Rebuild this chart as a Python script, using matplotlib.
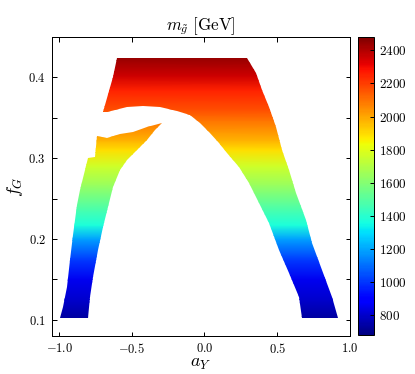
import numpy as np
import matplotlib
matplotlib.use("Agg")
import matplotlib.pyplot as plt
from matplotlib.path import Path
from matplotlib.patches import PathPatch
from matplotlib.ticker import FuncFormatter, FixedLocator

plt.rcParams['mathtext.fontset'] = 'cm'
plt.rcParams['font.family'] = ['cmr10', 'DejaVu Serif']
plt.rcParams['axes.unicode_minus'] = False

# Outline of the upper region (plateau + right leg): (a_Y, f_G)
upper_aY = [-0.600, 0.295, 0.356, 0.397, 0.445, 0.493, 0.534, 0.582, 0.630, 0.699,
            0.740, 0.808, 0.877, 0.918, 0.671, 0.651, 0.582, 0.514, 0.445, 0.377,
            0.308, 0.240, 0.158, 0.103, 0.034, -0.034, -0.103, -0.192, -0.308,
            -0.425, -0.534, -0.671, -0.699, -0.671, -0.630]
upper_fG = [0.424, 0.424, 0.405, 0.384, 0.363, 0.338, 0.310, 0.285, 0.257, 0.223,
            0.195, 0.162, 0.128, 0.102, 0.102, 0.128, 0.158, 0.186, 0.220, 0.244,
            0.269, 0.289, 0.306, 0.319, 0.332, 0.344, 0.353, 0.359, 0.363,
            0.365, 0.363, 0.357, 0.357, 0.375, 0.400]

# Outline of the lower-left leg: (a_Y, f_G)
left_aY = [-0.740, -0.671, -0.582, -0.493, -0.397, -0.295, -0.342, -0.397, -0.466,
           -0.534, -0.582, -0.630, -0.664, -0.699, -0.733, -0.767, -0.788, -0.801,
           -0.993, -0.973, -0.945, -0.925, -0.904, -0.877, -0.856, -0.822, -0.801, -0.753]
left_fG = [0.328, 0.325, 0.330, 0.332, 0.338, 0.343, 0.335, 0.322, 0.310,
           0.298, 0.285, 0.264, 0.240, 0.215, 0.186, 0.153, 0.128, 0.102,
           0.102, 0.116, 0.141, 0.174, 0.205, 0.242, 0.260, 0.285, 0.300, 0.301]

# Gluino mass (colour) read at several f_G heights
mass_fG = [0.100, 0.125, 0.150, 0.174, 0.200, 0.217, 0.236, 0.267, 0.290, 0.310,
           0.322, 0.347, 0.360, 0.384, 0.402, 0.426]
mass_GeV = [725, 805, 860, 1010, 1190, 1370, 1470, 1650, 1760, 1890,
            1980, 2100, 2170, 2250, 2360, 2450]

xticks = [-1.0, -0.5, 0.0, 0.5, 1.0]
yticks = [0.1, 0.2, 0.3, 0.4]
yminor = [0.15, 0.25, 0.35]
cticks = [800, 1000, 1200, 1400, 1600, 1800, 2000, 2200, 2400]
vmin, vmax = 680, 2480

fig = plt.figure(figsize=(415 / 72, 374 / 72), dpi=72)
ax = fig.add_axes([0.125, 0.102, 0.718, 0.799])
cax = fig.add_axes([0.863, 0.104, 0.038, 0.797])

xe = np.array([-1.05, 1.0])
Y = np.repeat(np.array(mass_fG)[:, None], 2, axis=1)
X = np.repeat(xe[None, :], len(mass_fG), axis=0)
C = np.repeat(np.array(mass_GeV, dtype=float)[:, None], 2, axis=1)
mesh = ax.pcolormesh(X, Y, C, shading='gouraud', cmap='jet', vmin=vmin, vmax=vmax)

path = Path.make_compound_path(
    Path(np.column_stack([upper_aY + [upper_aY[0]], upper_fG + [upper_fG[0]]]), closed=True),
    Path(np.column_stack([left_aY + [left_aY[0]], left_fG + [left_fG[0]]]), closed=True),
)
patch = PathPatch(path, transform=ax.transData, facecolor='none', edgecolor='none')
mesh.set_clip_path(patch)

ax.set_xlim(-1.05, 1.0)
ax.set_ylim(0.08, 0.45)
ax.xaxis.set_major_locator(FixedLocator(xticks))
ax.yaxis.set_major_locator(FixedLocator(yticks))
ax.yaxis.set_minor_locator(FixedLocator(yminor))
fmt = FuncFormatter(lambda v, p: r'$%.1f$' % v)
ax.xaxis.set_major_formatter(fmt)
ax.yaxis.set_major_formatter(fmt)
ax.tick_params(which='both', direction='in', top=True, right=True, length=4.5, width=1,
               labelsize=12.5, pad=6)
for s in ax.spines.values():
    s.set_linewidth(1)

ax.set_title(r'$m_{\tilde{g}}\ [\mathrm{GeV}]$', fontsize=17, pad=7)
ax.set_xlabel(r'$a_Y$', fontsize=18, labelpad=1)
ax.set_ylabel(r'$f_G$', fontsize=18, labelpad=3)

cb = fig.colorbar(mesh, cax=cax, ticks=cticks)
cb.ax.yaxis.set_major_formatter(FuncFormatter(lambda v, p: r'$%d$' % v))
cb.ax.tick_params(direction='in', length=4, width=1, labelsize=13, pad=5)
cb.outline.set_linewidth(1)

fig.savefig('out.png', dpi=72, facecolor='white')
